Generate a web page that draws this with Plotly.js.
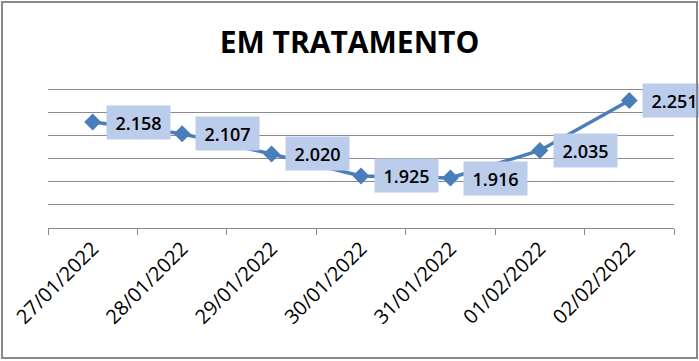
<!DOCTYPE html>
<html>
<head>
<meta charset="utf-8">
<script src="https://cdn.plot.ly/plotly-3.0.1.min.js"></script>
<style>
html,body{margin:0;padding:0;background:#fff;}
#wrap{position:relative;width:699px;height:361px;}
#chart{width:699px;height:361px;}
#frame{position:absolute;left:1px;top:1px;width:693px;height:354px;border:2px solid #888888;pointer-events:none;}
</style>
</head>
<body>
<div id="wrap"><div id="chart"></div><div id="frame"></div></div>
<script>
const chartTitle = "EM TRATAMENTO";
const dates = ["27/01/2022","28/01/2022","29/01/2022","30/01/2022","31/01/2022","01/02/2022","02/02/2022"];
const values = [2.158, 2.107, 2.020, 1.925, 1.916, 2.035, 2.251];
const labels = ["2.158","2.107","2.020","1.925","1.916","2.035","2.251"];

const lineColor = "#4a7ebb";

const trace = {
  type: "scatter",
  mode: "lines+markers",
  x: dates,
  y: values,
  line: {color: lineColor, width: 3.5},
  marker: {symbol: "diamond", size: 13, color: lineColor},
  hoverinfo: "skip",
  cliponaxis: false
};

const annotations = dates.map((d, i) => ({
  x: d, y: values[i], xref: "x", yref: "y",
  text: labels[i],
  showarrow: false,
  xanchor: "left", yanchor: "middle",
  xshift: 13,
  width: 61, height: 31,
  bgcolor: "#bccdeb",
  font: {family: "Open Sans, Noto Sans, sans-serif", size: 18, color: "#000", weight: 600}
}));

const layout = {
  width: 699, height: 361,
  margin: {l: 48, r: 25, t: 88, b: 133},
  paper_bgcolor: "#ffffff",
  plot_bgcolor: "#ffffff",
  showlegend: false,
  title: {
    text: "<b>" + chartTitle + "</b>",
    font: {family: "Open Sans, Noto Sans, sans-serif", size: 30, color: "#000"},
    x: 0.5, xanchor: "center", xref: "container",
    y: 1 - 42/361, yref: "container", yanchor: "middle"
  },
  xaxis: {
    type: "category",
    range: [-0.5, 6.5],
    showgrid: false,
    showline: true, linecolor: "#888888", linewidth: 1,
    ticks: "outside", ticklen: 6, tickcolor: "#888888",
    tickson: "boundaries",
    tickangle: -45,
    tickfont: {family: "Open Sans, Noto Sans, sans-serif", size: 20, color: "#000"},
    fixedrange: true
  },
  yaxis: {
    range: [1.7, 2.305],
    dtick: 0.1, tick0: 1.7,
    showgrid: true, gridcolor: "#8c8c8c", gridwidth: 1,
    showticklabels: false,
    zeroline: false, showline: false, ticks: "",
    fixedrange: true
  },
  annotations: annotations
};

Plotly.newPlot("chart", [trace], layout, {staticPlot: true, displayModeBar: false});
</script>
</body>
</html>
